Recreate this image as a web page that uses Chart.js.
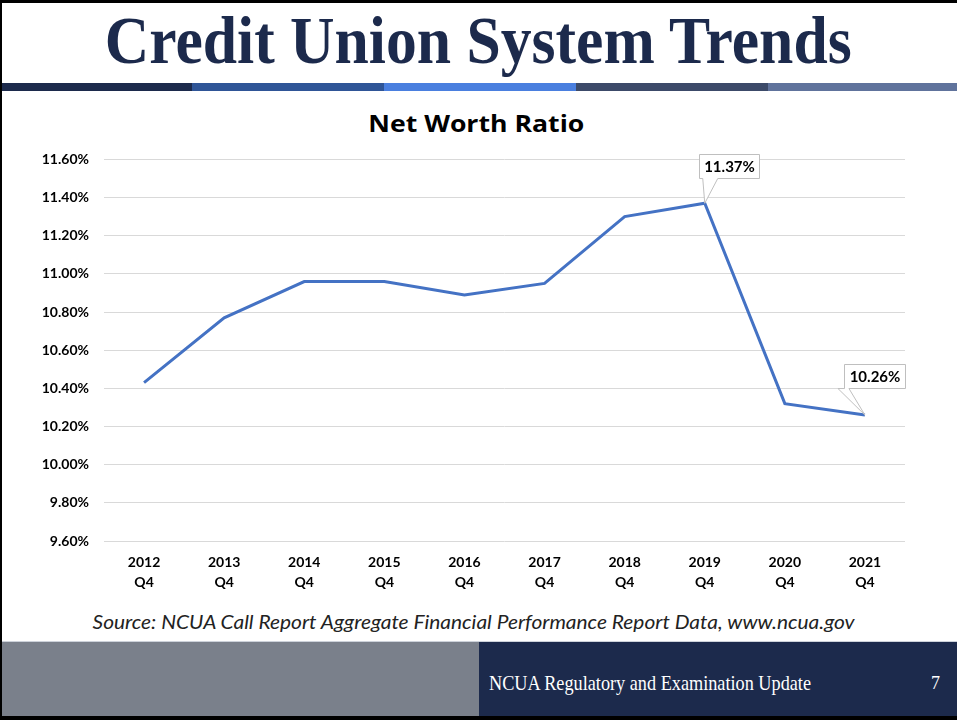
<!DOCTYPE html>
<html>
<head>
<meta charset="utf-8">
<script src="https://cdn.jsdelivr.net/npm/chart.js@4.4.1/dist/chart.umd.min.js"></script>
<style>
  html, body { margin: 0; padding: 0; background: #fff; }
  #slide { position: relative; width: 957px; height: 720px; overflow: hidden; background: #fff; }
  .abs { position: absolute; white-space: nowrap; }
  #title { left: 0; top: 6px; width: 957px; text-align: center; font-family: "Liberation Serif", serif; font-weight: bold; font-size: 68px; line-height: 68px; color: #1c2a4c; }
  #title span, #source span, #foot span, #ctitle span { display: inline-block; transform-origin: center center; }
  .seg { position: absolute; top: 83px; height: 8px; }
  #ctitle { left: 0; top: 108px; width: 952px; text-align: center; font-family: "Open Sans", sans-serif; font-weight: bold; font-size: 23px; line-height: 30px; color: #000; }
  #source { left: 0; top: 607px; width: 948px; text-align: center; font-family: Lato, sans-serif; font-style: italic; font-size: 20px; line-height: 28px; color: #222; }
  #footL { position: absolute; left: 0; top: 642px; width: 479px; height: 74px; background: #7a808b; }
  #footR { position: absolute; left: 479px; top: 642px; width: 478px; height: 74px; background: #1c2a4c; }
  #footline { position: absolute; left: 0; top: 641px; width: 957px; height: 1px; background: #cdd2da; }
  #foot { left: 489px; top: 670px; font-family: "Liberation Serif", serif; font-size: 21px; line-height: 26px; color: #fff; }
  #foot span { transform-origin: left center; }
  #page { left: 931px; top: 670px; font-family: "Liberation Serif", serif; font-size: 18px; line-height: 26px; color: #fff; }
  #bTop { position: absolute; left: 0; top: 0; width: 957px; height: 3px; background: #000; }
  #bLeft { position: absolute; left: 0; top: 0; width: 2px; height: 720px; background: #000; }
  #bBot { position: absolute; left: 0; top: 716px; width: 957px; height: 4px; background: #000; }
  #wrap { position: absolute; left: 0; top: 136px; width: 957px; height: 464px; }
  canvas { display: block; }
</style>
</head>
<body>
<div id="slide">
  <div id="title" class="abs"><span>Credit Union System Trends</span></div>
  <div class="seg" style="left:0;width:192px;background:#1c2a4c"></div>
  <div class="seg" style="left:192px;width:192px;background:#2f5597"></div>
  <div class="seg" style="left:384px;width:192px;background:#4a7fdf"></div>
  <div class="seg" style="left:576px;width:192px;background:#3c4a69"></div>
  <div class="seg" style="left:768px;width:189px;background:#60739c"></div>
  <div id="ctitle" class="abs"><span>Net Worth Ratio</span></div>
  <div id="wrap"><canvas id="c" width="957" height="464"></canvas></div>
  <div id="source" class="abs"><span>Source: NCUA Call Report Aggregate Financial Performance Report Data, www.ncua.gov</span></div>
  <div id="footline"></div>
  <div id="footL"></div>
  <div id="footR"></div>
  <div id="foot" class="abs"><span>NCUA Regulatory and Examination Update</span></div>
  <div id="page" class="abs">7</div>
  <div id="bTop"></div>
  <div id="bLeft"></div>
  <div id="bBot"></div>
</div>
<script>
// ---- data ----
const years = ['2012', '2013', '2014', '2015', '2016', '2017', '2018', '2019', '2020', '2021'];
const quarter = 'Q4';
const netWorthRatio = [10.43, 10.77, 10.96, 10.96, 10.89, 10.95, 11.30, 11.37, 10.32, 10.26];
const yTickMin = 9.6;
const yTickMax = 11.6;
const yTickStep = 0.2;
const calloutIndexes = [7, 9];

// ---- fit helper for condensed slide text ----
function fitWidth(id, target) {
  const span = document.querySelector('#' + id + ' span');
  const w = span.getBoundingClientRect().width;
  span.style.transform = 'scaleX(' + (target / w) + ')';
}
fitWidth('title', 747);
fitWidth('ctitle', 216);
fitWidth('source', 762);
fitWidth('foot', 322);

const categories = years.map(y => [y, quarter]);

const calloutStyle = {
  7: { left: -6, right: 54, top: -49, bottom: -25, p1: 4, p2: 19 },
  9: { left: -21, right: 40, top: -51, bottom: -27, p1: -6, p2: 5 }
};

const calloutPlugin = {
  id: 'callouts',
  afterDatasetsDraw(chart) {
    const ctx = chart.ctx;
    const meta = chart.getDatasetMeta(0);
    calloutIndexes.forEach(i => {
      const pt = meta.data[i];
      const s = calloutStyle[i];
      const x = pt.x, y = pt.y;
      const bx = Math.round(x + s.left) + 0.5, by = Math.round(y + s.top) + 0.5;
      const bw = s.right - s.left, bh = s.bottom - s.top;
      ctx.save();
      ctx.fillStyle = '#fff';
      ctx.strokeStyle = '#bfbfbf';
      ctx.lineWidth = 1;
      ctx.beginPath();
      ctx.moveTo(bx, by);
      ctx.lineTo(bx + bw, by);
      ctx.lineTo(bx + bw, by + bh);
      ctx.lineTo(x + s.left + s.p2, by + bh);
      ctx.lineTo(x, y);
      ctx.lineTo(x + s.left + s.p1, by + bh);
      ctx.lineTo(bx, by + bh);
      ctx.closePath();
      ctx.fill();
      ctx.stroke();
      ctx.fillStyle = '#000';
      ctx.font = 'bold 15px Lato, sans-serif';
      ctx.textAlign = 'center';
      ctx.textBaseline = 'middle';
      ctx.fillText(netWorthRatio[i].toFixed(2) + '%', bx + bw / 2, by + bh / 2 + 1);
      ctx.restore();
    });
  }
};

new Chart(document.getElementById('c'), {
  type: 'line',
  data: {
    labels: categories,
    datasets: [{
      data: netWorthRatio,
      borderColor: '#4472c4',
      borderWidth: 3,
      pointRadius: 0,
      tension: 0,
      fill: false
    }]
  },
  options: {
    responsive: false,
    animation: false,
    layout: { padding: { left: 0, right: 52, top: 0, bottom: 0 } },
    plugins: { legend: { display: false }, tooltip: { enabled: false }, title: { display: false } },
    scales: {
      x: {
        offset: true,
        grid: { display: false, drawTicks: false },
        border: { display: false },
        ticks: { color: '#000', padding: 11, maxRotation: 0, font: { family: 'Lato, sans-serif', weight: 'bold', size: 14, lineHeight: '20px' } },
        afterFit(scale) { scale.height = 59; }
      },
      y: {
        min: yTickMin,
        max: yTickMax,
        grid: { color: '#d9d9d9', lineWidth: 1, drawTicks: false },
        border: { display: false },
        ticks: {
          stepSize: yTickStep,
          color: '#000',
          padding: 15,
          font: { family: 'Lato, sans-serif', weight: 'bold', size: 14 },
          callback: v => Number(v).toFixed(2) + '%'
        },
        afterFit(scale) { scale.width = 104; }
      }
    }
  },
  plugins: [calloutPlugin]
});
</script>
</body>
</html>
